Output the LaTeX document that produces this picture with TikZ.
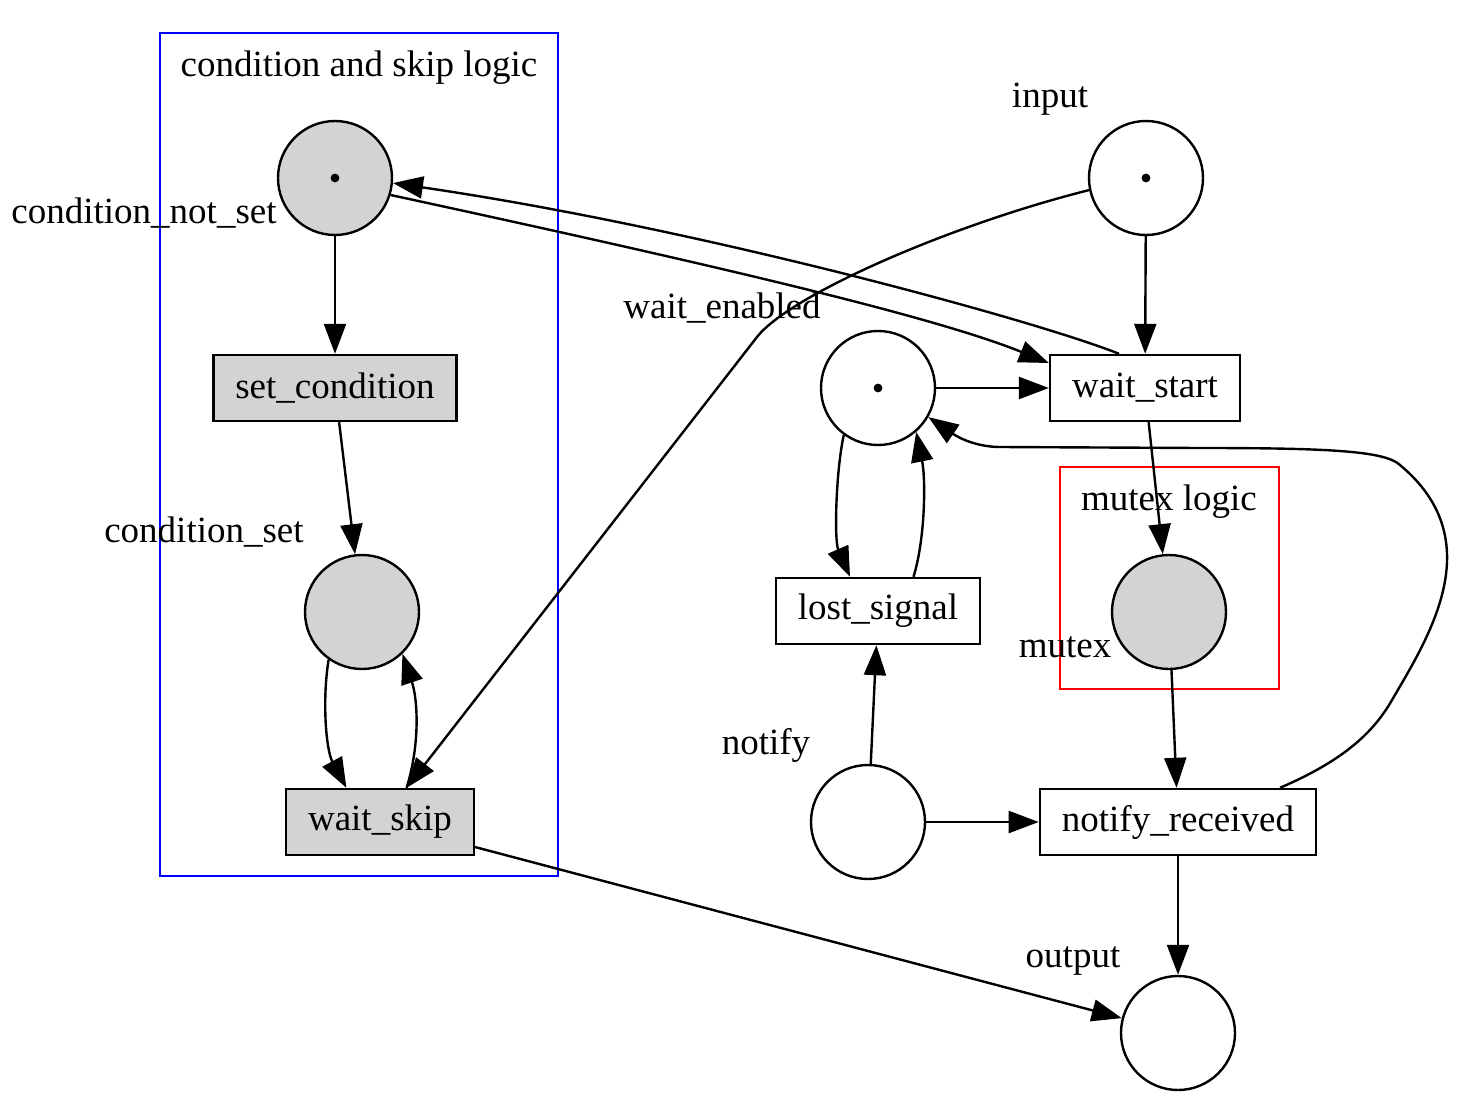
\documentclass[tikz,border=0pt]{standalone}
\usepackage{fontspec}
\setmainfont{Liberation Serif}
\usepackage{xcolor}
\usetikzlibrary{arrows.meta}
\definecolor{lgray}{HTML}{D3D3D3}

\begin{document}
\begin{tikzpicture}[x=0.5pt, y=-0.5pt,
	place/.style={draw, circle, line width=1.2pt, minimum size=57pt, inner sep=0pt},
	trans/.style={draw, rectangle, line width=1.2pt, minimum height=33pt, inner xsep=11pt, font=\fontsize{18.5}{22}\selectfont},
	lbl/.style={anchor=base, inner sep=0pt, font=\fontsize{18.5}{22}\selectfont},
	flow/.style={-{Triangle[length=15pt,width=11pt]}, line width=1.2pt}]
	\useasboundingbox (0,0) rectangle (1458,1102);

	\draw[blue, line width=1.2pt] (160,33) rectangle (558,876);
	\draw[red, line width=1.2pt] (1060,467) rectangle (1279,689);
	\node[lbl] at (359,77) (kc) {condition and skip logic};
	\node[lbl] at (1169,510) (km) {mutex logic};

	\node[place, fill=lgray] at (335,178) (cns) {};
	\node[trans, fill=lgray] at (335,388) (sc) {set\_condition};
	\node[place, fill=lgray] at (362,612) (cs) {};
	\node[trans, fill=lgray] at (380,822) (wsk) {wait\_skip};
	\node[place] at (1146,178) (inp) {};
	\node[trans] at (1145,388) (wst) {wait\_start};
	\node[place] at (878,388) (wen) {};
	\node[trans] at (878,611) (lost) {lost\_signal};
	\node[place, fill=lgray] at (1169,612) (mtx) {};
	\node[place] at (868,822) (ntf) {};
	\node[trans] at (1178,822) (nrc) {notify\_received};
	\node[place] at (1178,1033) (out) {};

	\fill (cns.center) circle (2.2pt);
	\fill (inp.center) circle (2.2pt);
	\fill (wen.center) circle (2.2pt);

	\node[lbl, anchor=base east] at (277,223) (lcns) {condition\_not\_set};
	\node[lbl] at (204,542) (lcs) {condition\_set};
	\node[lbl] at (1050,108) (linp) {input};
	\node[lbl] at (722,318) (lwen) {wait\_enabled};
	\node[lbl] at (1065,657) (lmtx) {mutex};
	\node[lbl] at (766,754) (lntf) {notify};
	\node[lbl] at (1073,967) (lout) {output};

	\draw[flow] (cns) -- (sc);
	\draw[flow] (sc) -- (cs);
	\draw[flow] (cs.235) .. controls (322,700) and (326,750) .. ([xshift=-16.8pt]wsk.north);
	\draw[flow] ([xshift=13.3pt]wsk.north) .. controls (420,745) and (418,700) .. (cs.-46);
	\draw[flow] (inp.192) .. controls (950,225) and (790,295) .. (757,337) -- ([xshift=13.3pt]wsk.north);
	\draw[flow] (inp) -- (wst);
	\draw[flow] (cns.-17) .. controls (700,262) and (930,315) .. ([yshift=12.5pt]wst.west);
	\draw[flow] ([xshift=-13pt]wst.north) .. controls (1040,322) and (700,228) .. (cns.-5);
	\draw[flow] (wen) -- (wst);
	\draw[flow] (wst) -- (mtx);
	\draw[flow] (wen.234) .. controls (836,470) and (834,540) .. ([xshift=-14pt]lost.north);
	\draw[flow] ([xshift=17.75pt]lost.north) .. controls (925,540) and (926,480) .. (wen.-49);
	\draw[flow] (ntf) -- (lost);
	\draw[flow] (ntf) -- (nrc);
	\draw[flow] (mtx) -- (nrc);
	\draw[flow] ([xshift=51pt]nrc.north) .. controls (1340,762) and (1372,735) .. (1392,700) .. controls (1430,635) and (1490,540) .. (1400,465) .. controls (1385,451) and (1330,448) .. (1200,448) -- (1000,447) .. controls (980,447) and (962,440) .. (wen.-30);
	\draw[flow] (nrc) -- (out);
	\draw[flow] (wsk) -- (out);
\end{tikzpicture}
\end{document}
